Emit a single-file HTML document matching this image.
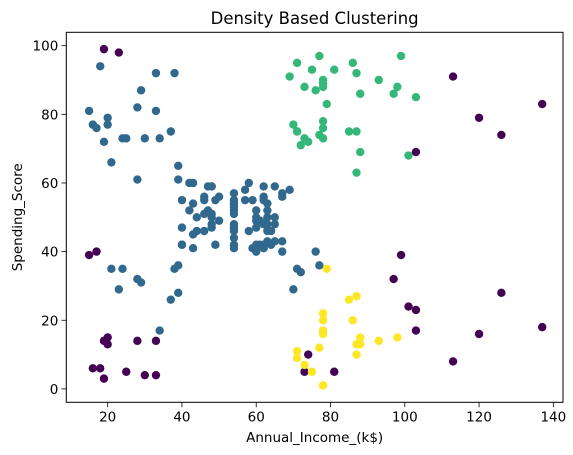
<!DOCTYPE html>
<html><head><meta charset="utf-8"><style>
html,body{margin:0;padding:0;background:#fff;}
svg{display:block;font-family:"DejaVu Sans","Liberation Sans",sans-serif;}
</style></head><body>
<svg id="chart" width="573" height="455" viewBox="0 0 573 455"></svg>
<script>
const incomes=[
15,15,16,16,17,17,18,18,19,19,
19,19,20,20,20,20,21,21,23,23,
24,24,25,25,28,28,28,28,29,29,
30,30,33,33,33,33,34,34,37,37,
38,38,39,39,39,39,40,40,40,40,
42,42,43,43,43,43,44,44,46,46,
46,46,47,47,48,48,48,48,48,48,
49,49,50,50,54,54,54,54,54,54,
54,54,54,54,54,54,57,57,58,58,
59,59,60,60,60,60,60,60,61,61,
62,62,62,62,62,62,63,63,63,63,
63,63,64,64,65,65,65,65,67,67,
67,67,69,69,70,70,71,71,71,71,
71,71,72,72,73,73,73,73,74,74,
75,75,76,76,77,77,77,77,78,78,
78,78,78,78,78,78,78,78,78,78,
79,79,81,81,85,85,86,86,87,87,
87,87,87,87,88,88,88,88,93,93,
97,97,98,98,99,99,101,101,103,103,
103,103,113,113,120,120,126,126,137,137];
const scores=[
39,81,6,77,40,76,6,94,3,72,
14,99,15,77,13,79,35,66,29,98,
35,73,5,73,14,82,32,61,31,87,
4,73,4,92,14,81,17,73,26,75,
35,92,36,61,28,65,55,47,42,42,
52,60,54,60,45,41,50,46,51,46,
56,55,52,59,51,59,50,48,59,47,
55,42,49,56,47,54,53,48,52,42,
51,55,41,44,57,46,58,55,60,46,
55,41,49,40,42,52,47,50,42,49,
41,48,59,55,56,42,50,46,43,48,
52,54,42,46,48,50,43,59,43,57,
56,40,58,91,29,77,35,95,11,75,
9,75,34,71,5,88,7,73,10,72,
5,93,40,87,12,97,36,74,22,90,
17,88,20,76,16,89,1,78,1,73,
35,83,5,93,26,75,20,95,27,63,
13,75,10,92,13,86,15,69,14,90,
32,86,15,88,39,97,24,68,17,85,
23,69,8,91,16,79,28,74,18,83];
// cluster labels: -1 noise, 0 blue, 1 green, 2 yellow
const labels=[
-1,0,-1,0,-1,0,-1,0,-1,0,
-1,-1,-1,0,-1,0,0,0,0,-1,
0,0,-1,0,-1,0,0,0,0,0,
-1,0,-1,0,-1,0,0,0,0,0,
0,0,0,0,0,0,0,0,0,0,
0,0,0,0,0,0,0,0,0,0,
0,0,0,0,0,0,0,0,0,0,
0,0,0,0,0,0,0,0,0,0,
0,0,0,0,0,0,0,0,0,0,
0,0,0,0,0,0,0,0,0,0,
0,0,0,0,0,0,0,0,0,0,
0,0,0,0,0,0,0,0,0,0,
0,0,0,1,0,1,0,1,2,1,
2,1,0,1,-1,1,2,1,-1,1,
2,1,0,1,2,1,0,1,2,1,
2,1,2,1,2,1,2,1,2,1,
2,1,-1,1,2,1,2,1,2,1,
2,1,2,1,2,1,2,1,2,1,
-1,1,2,1,-1,1,-1,1,-1,1,
-1,-1,-1,-1,-1,-1,-1,-1,-1,-1];
const xTicks=[20,40,60,80,100,120,140];
const yTicks=[0,20,40,60,80,100];
const colors={"-1":"#440154","0":"#31688e","1":"#35b779","2":"#fde725"};

const NS="http://www.w3.org/2000/svg";
const svg=document.getElementById('chart');
const L=66.3,R=563,T=32.3,B=402.3;
const xMin=8.86,xMax=142.6,yMin=-3.9,yMax=103.9;
const xs=v=>L+(v-xMin)/(xMax-xMin)*(R-L);
const ys=v=>B-(v-yMin)/(yMax-yMin)*(B-T);
function mk(tag,attrs){const e=document.createElementNS(NS,tag);for(const k in attrs)e.setAttribute(k,attrs[k]);svg.appendChild(e);return e;}

const pts=document.createElementNS(NS,'g');


svg.appendChild(pts);
const n=Math.min(incomes.length,scores.length,labels.length);
for(let i=0;i<n;i++){
  const c=document.createElementNS(NS,'circle');
  c.setAttribute('cx',xs(incomes[i]));c.setAttribute('cy',ys(scores[i]));c.setAttribute('r',4.2);
  c.setAttribute('fill',colors[labels[i]]);
  
  
  pts.appendChild(c);
}
const frame=mk('rect',{x:L,y:T,width:R-L,height:B-T,fill:'none',stroke:'#000','stroke-width':1});


xTicks.forEach(t=>{
  const x=xs(t);
  const ln=mk('line',{x1:x,x2:x,y1:B,y2:B+4.9,stroke:'#000','stroke-width':0.8});
  
  
  const tx=mk('text',{x:x,y:B+19,'text-anchor':'middle','font-size':'13.5px',fill:'#000'});
  tx.textContent=t;
  
  
});
yTicks.forEach(t=>{
  const y=ys(t);
  const ln=mk('line',{x1:L-4.9,x2:L,y1:y,y2:y,stroke:'#000','stroke-width':0.8});
  
  
  const tx=mk('text',{x:L-8,y:y+5,'text-anchor':'end','font-size':'13.5px',fill:'#000'});
  tx.textContent=t;
  
  
});
const title=mk('text',{x:(L+R)/2,y:24,'text-anchor':'middle','font-size':'16.5px',fill:'#000'});
title.textContent='Density Based Clustering';


const xl=mk('text',{x:(L+R)/2,y:442,'text-anchor':'middle','font-size':'13.5px',fill:'#000'});
xl.textContent='Annual_Income_(k$)';


const yl=mk('text',{x:0,y:0,'text-anchor':'middle','font-size':'13.5px',fill:'#000',transform:'translate(22,'+((T+B)/2)+') rotate(-90)'});
yl.textContent='Spending_Score';


</script>
</body></html>
